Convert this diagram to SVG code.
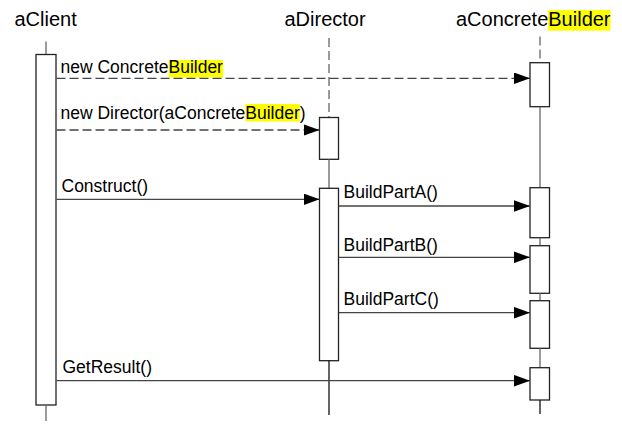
<svg xmlns="http://www.w3.org/2000/svg" width="622" height="432" viewBox="0 0 622 432">
  <style>
    .title { font-family: "Liberation Sans", Arial, sans-serif; font-size: 20px; fill: #000; }
    .msg { font-family: "Liberation Sans", Arial, sans-serif; font-size: 17.5px; fill: #000; }
    .hl { fill: #ffff00; }
    .act { fill: #fff; stroke: #222; stroke-width: 1.3; }
    .life { stroke: #666; stroke-width: 1.3; fill: none; }
    .life-dash { stroke: #666; stroke-width: 1.3; fill: none; stroke-dasharray: 9 4; }
    .call { stroke: #444; stroke-width: 1.3; fill: none; marker-end: url(#head); }
    .create { stroke: #444; stroke-width: 1.3; fill: none; stroke-dasharray: 9 4; marker-end: url(#head); }
  </style>
  <defs>
    <marker id="head" markerUnits="userSpaceOnUse" markerWidth="16" markerHeight="12" refX="16" refY="5.8" orient="auto">
      <path d="M0,0 L16,5.8 L0,11.6 Z" fill="#000"/>
    </marker>
  </defs>
  <rect width="622" height="432" fill="#fff"/>

  <!-- client object -->
  <g id="aClient">
    <text class="title" x="14.5" y="26">aClient</text>
    <line class="life" x1="46" y1="41.5" x2="46" y2="54.5"/>
    <rect class="act" x="36" y="54.5" width="20" height="350.5"/>
    <line class="life" x1="46" y1="405" x2="46" y2="421"/>
  </g>

  <!-- director object -->
  <g id="aDirector">
    <text class="title" x="284.5" y="26">aDirector</text>
    <line class="life-dash" x1="329" y1="38" x2="329" y2="117.5"/>
    <rect class="act" x="319.5" y="117.5" width="19" height="41.8"/>
    <line class="life" x1="329" y1="159.3" x2="329" y2="188.3"/>
    <rect class="act" x="319.5" y="188.3" width="19" height="172.4"/>
    <line stroke="#111" stroke-width="1.3" x1="329" y1="360.7" x2="329" y2="415"/>
  </g>

  <!-- concrete builder object -->
  <g id="aConcreteBuilder">
    <rect class="hl" x="548" y="10" width="62.5" height="20.7"/>
    <text class="title" x="456" y="26">aConcreteBuilder</text>
    <line class="life-dash" x1="540" y1="36.5" x2="540" y2="62.7"/>
    <rect class="act" x="530" y="62.7" width="19.5" height="44"/>
    <line class="life" x1="540" y1="106.7" x2="540" y2="187.7"/>
    <rect class="act" x="530" y="187.7" width="19.5" height="50"/>
    <line class="life" x1="540" y1="237.7" x2="540" y2="245.7"/>
    <rect class="act" x="530" y="245.7" width="19.5" height="47.6"/>
    <line class="life" x1="540" y1="293.3" x2="540" y2="300.7"/>
    <rect class="act" x="530" y="300.7" width="19.5" height="47.6"/>
    <line class="life" x1="540" y1="348.3" x2="540" y2="367.7"/>
    <rect class="act" x="530" y="367.7" width="19.5" height="32.3"/>
    <line stroke="#111" stroke-width="1.3" x1="540" y1="400" x2="540" y2="414"/>
  </g>

  <!-- messages -->
  <g id="connectors">
    <rect class="hl" x="168.7" y="60" width="54.5" height="17.5"/>
    <text class="msg" x="60.5" y="73.3">new ConcreteBuilder</text>
    <line class="create" x1="56.5" y1="78.3" x2="530" y2="78.3"/>

    <rect class="hl" x="245.3" y="104" width="54.5" height="17.5"/>
    <text class="msg" x="60.5" y="118.5">new Director(aConcreteBuilder)</text>
    <line class="create" x1="56.5" y1="130" x2="319.5" y2="130"/>

    <text class="msg" x="61.5" y="192.3">Construct()</text>
    <line class="call" x1="56.5" y1="199.3" x2="319.5" y2="199.3"/>

    <text class="msg" x="343.5" y="198.3">BuildPartA()</text>
    <line class="call" x1="339" y1="206" x2="530" y2="206"/>

    <text class="msg" x="343.5" y="251">BuildPartB()</text>
    <line class="call" x1="339" y1="257.3" x2="530" y2="257.3"/>

    <text class="msg" x="343.5" y="305">BuildPartC()</text>
    <line class="call" x1="339" y1="312.7" x2="530" y2="312.7"/>

    <text class="msg" x="62.5" y="373.3">GetResult()</text>
    <line class="call" x1="56.5" y1="380.7" x2="530" y2="380.7"/>
  </g>
</svg>
